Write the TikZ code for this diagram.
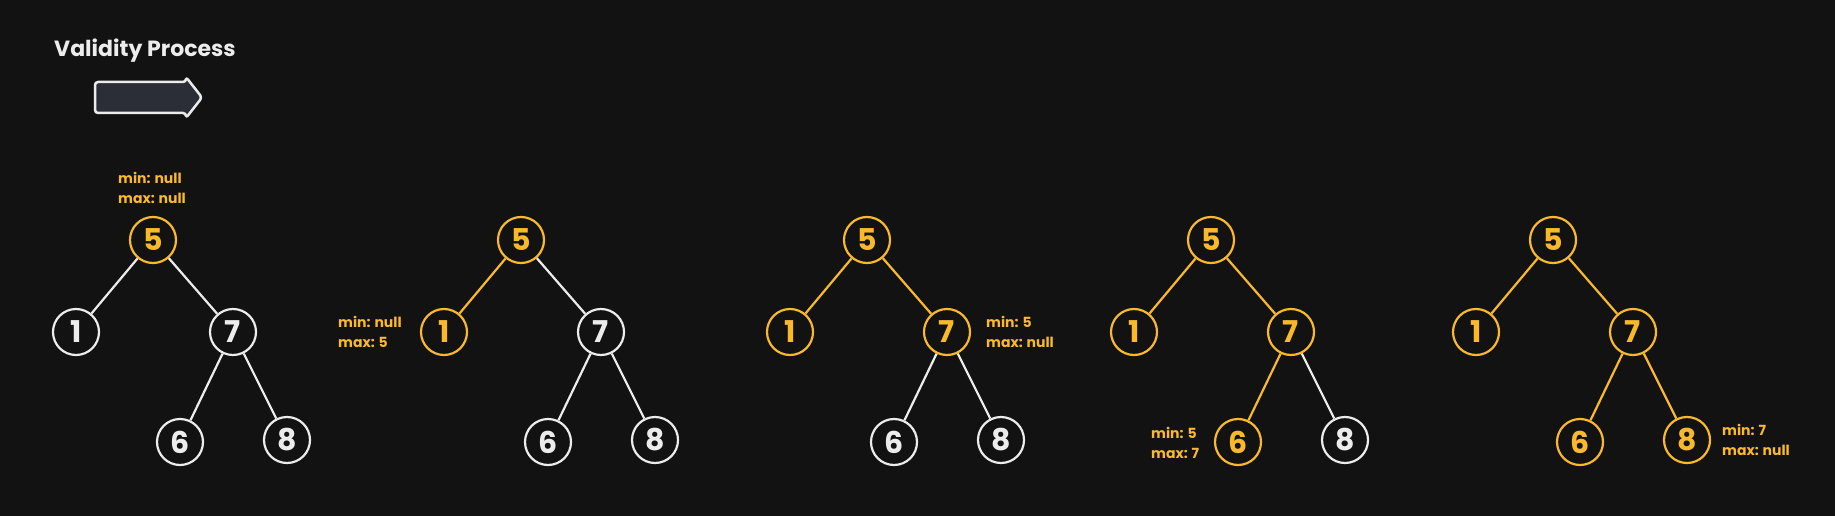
\documentclass[tikz,border=0pt]{standalone}
\usepackage{fontspec}
\setmainfont{Poppins}
\definecolor{bg}{HTML}{121212}
\definecolor{og}{HTML}{F9B92B}
\definecolor{wh}{HTML}{ECECEC}
\definecolor{arrfill}{HTML}{2B2E36}
\tikzset{
  nd/.style={circle, draw=#1, text=#1, line width=2.2pt, minimum size=46pt, inner sep=0pt, font=\fontsize{30}{30}\selectfont\bfseries},
  nd/.default=wh,
  ed/.style={draw=#1, line width=2.2pt},
  ed/.default=wh,
  lbl/.style={text=og, align=left, anchor=west, inner sep=0pt, font=\fontsize{14}{20}\selectfont\bfseries},
}
\begin{document}
\begin{tikzpicture}[x=1pt,y=-1pt]
\useasboundingbox (0,0) rectangle (1835,516);
\fill[bg] (0,0) rectangle (1835,516);
% title and arrow
\node[anchor=west, text=wh, inner sep=0pt, font=\fontsize{22}{22}\selectfont\bfseries] (title) at (54,51) {Validity Process};
\draw[wh, fill=arrfill, line width=2.5pt, rounded corners=3pt, line join=round]
  (95,82) -- (186,82) -- (186,77) -- (202,97.5) -- (186,118) -- (186,113) -- (95,113) -- cycle;
% ---------- tree 1 ----------
\begin{scope}[shift={(153,0)}]
\node[nd=og] (a5) at (0,240) {5};
\node[nd] (a1) at (-77,332) {1};
\node[nd] (a7) at (80,332) {7};
\node[nd] (a6) at (27,442) {6};
\node[nd] (a8) at (134,440) {8};
\draw[ed] (a5) -- (a1);
\draw[ed] (a5) -- (a7);
\draw[ed] (a7) -- (a6);
\draw[ed] (a7) -- (a8);
\node[lbl] (la) at (-35,188) {min: null\\max: null};
\end{scope}
% ---------- tree 2 ----------
\begin{scope}[shift={(521,0)}]
\node[nd=og] (b5) at (0,240) {5};
\node[nd=og] (b1) at (-77,332) {1};
\node[nd] (b7) at (80,332) {7};
\node[nd] (b6) at (27,442) {6};
\node[nd] (b8) at (134,440) {8};
\draw[ed=og] (b5) -- (b1);
\draw[ed] (b5) -- (b7);
\draw[ed] (b7) -- (b6);
\draw[ed] (b7) -- (b8);
\node[lbl] (lb) at (-183,332) {min: null\\max: 5};
\end{scope}
% ---------- tree 3 ----------
\begin{scope}[shift={(867,0)}]
\node[nd=og] (c5) at (0,240) {5};
\node[nd=og] (c1) at (-77,332) {1};
\node[nd=og] (c7) at (80,332) {7};
\node[nd] (c6) at (27,442) {6};
\node[nd] (c8) at (134,440) {8};
\draw[ed=og] (c5) -- (c1);
\draw[ed=og] (c5) -- (c7);
\draw[ed] (c7) -- (c6);
\draw[ed] (c7) -- (c8);
\node[lbl] (lc) at (119,332) {min: 5\\max: null};
\end{scope}
% ---------- tree 4 ----------
\begin{scope}[shift={(1211,0)}]
\node[nd=og] (d5) at (0,240) {5};
\node[nd=og] (d1) at (-77,332) {1};
\node[nd=og] (d7) at (80,332) {7};
\node[nd=og] (d6) at (27,442) {6};
\node[nd] (d8) at (134,440) {8};
\draw[ed=og] (d5) -- (d1);
\draw[ed=og] (d5) -- (d7);
\draw[ed=og] (d7) -- (d6);
\draw[ed] (d7) -- (d8);
\node[lbl] (ld) at (-60,443) {min: 5\\max: 7};
\end{scope}
% ---------- tree 5 ----------
\begin{scope}[shift={(1553,0)}]
\node[nd=og] (e5) at (0,240) {5};
\node[nd=og] (e1) at (-77,332) {1};
\node[nd=og] (e7) at (80,332) {7};
\node[nd=og] (e6) at (27,442) {6};
\node[nd=og] (e8) at (134,440) {8};
\draw[ed=og] (e5) -- (e1);
\draw[ed=og] (e5) -- (e7);
\draw[ed=og] (e7) -- (e6);
\draw[ed=og] (e7) -- (e8);
\node[lbl] (le) at (169,440) {min: 7\\max: null};
\end{scope}
\end{tikzpicture}
\end{document}
